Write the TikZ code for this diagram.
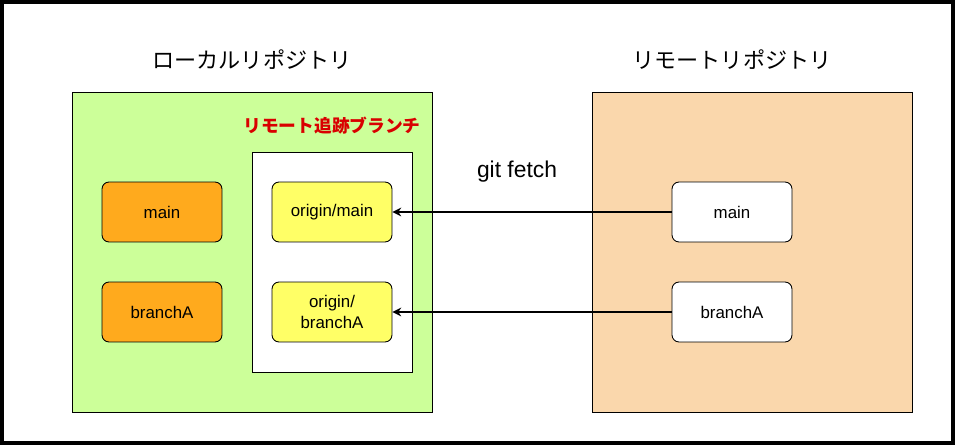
\documentclass[tikz,border=0pt]{standalone}
\usepackage{fontspec}
\setmainfont{Liberation Sans}
\newfontfamily\cjk{Noto Sans CJK JP}
\usetikzlibrary{arrows.meta}
\definecolor{lgreen}{HTML}{CCFF99}
\definecolor{lorange}{HTML}{FAD7AC}
\definecolor{norange}{HTML}{FFAA1D}
\definecolor{nyellow}{HTML}{FFFF66}
\begin{document}
\begin{tikzpicture}[x=0.02cm,y=-0.02cm,
  box/.style={draw=black,line width=0.5pt,rounded corners=4pt,minimum width=2.4cm,minimum height=1.2cm,align=center,font=\fontsize{9.6}{12}\selectfont},
  title/.style={font=\cjk\fontsize{12.6}{15}\selectfont},
  arr/.style={-{Stealth[length=5pt,width=5pt]},line width=1pt}]
\useasboundingbox (0,0) rectangle (955,445);
\draw[line width=3pt] (1.5,1.5) rectangle (953.5,443.5);
\node[draw,line width=0.5pt,fill=lgreen,minimum width=7.2cm,minimum height=6.4cm,inner sep=0] (local) at (252,252) {};
\node[draw,line width=0.5pt,fill=lorange,minimum width=6.4cm,minimum height=6.4cm,inner sep=0] (remote) at (752,252) {};
\node[draw,line width=0.5pt,fill=white,minimum width=3.2cm,minimum height=4.4cm,inner sep=0] (track) at (332,262) {};
\node[title] (lt) at (252,60) {ローカルリポジトリ};
\node[title] (rt) at (732,60) {リモートリポジトリ};
\node[font=\cjk\bfseries\fontsize{10.1}{12}\selectfont,text=red!85!black] (tt) at (332,126) {リモート追跡ブランチ};
\node[font=\fontsize{13}{15}\selectfont] (gf) at (517,172) {git fetch};
\node[box,fill=norange] (lm) at (162,212) {main};
\node[box,fill=norange] (lb) at (162,312) {branchA};
\node[box,fill=nyellow] (om) at (332,212) {origin/main};
\node[box,fill=nyellow] (ob) at (332,312) {origin/\\branchA};
\node[box,fill=white] (rm) at (732,212) {main};
\node[box,fill=white] (rb) at (732,312) {branchA};
\draw[arr] (rm.west) -- (om.east);
\draw[arr] (rb.west) -- (ob.east);
\end{tikzpicture}
\end{document}
